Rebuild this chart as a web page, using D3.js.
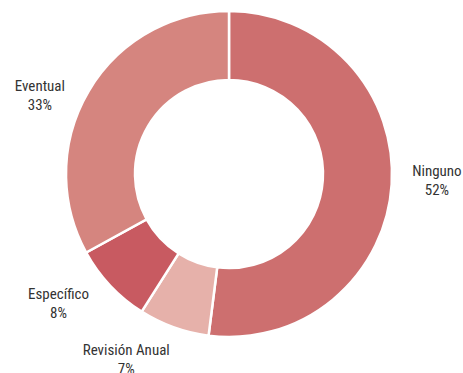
<!DOCTYPE html>
<html>
<head>
<meta charset="utf-8">
<script src="https://cdn.jsdelivr.net/npm/d3@7/dist/d3.min.js"></script>
<style>
  html, body { margin: 0; padding: 0; background: #ffffff; }
  svg { display: block; }
  text { font-family: "Liberation Sans Narrow", "Roboto Condensed", "Roboto", sans-serif; font-size: 15px; fill: #333333; }
</style>
</head>
<body>
<svg id="chart" width="463" height="373"></svg>
<script>
// Share of each category (percent)
const categories = ["Ninguno", "Revisión Anual", "Específico", "Eventual"];
const values = [52, 7, 8, 33];
const colors = ["#cd6f6f", "#e6b1aa", "#c85a61", "#d5857f"];

// Label anchor placement: angle (degrees, clockwise from 12 o'clock) and radius
const labelAngles = [91.6, 209, 232.8, 292.7];
const labelRadii = [208, 212, 214, 205];

const width = 463, height = 373;
const cx = 229, cy = 174;
const outerR = 163, innerR = 94;

const svg = d3.select("#chart");
const g = svg.append("g").attr("transform", `translate(${cx},${cy})`);

const data = categories.map((c, i) => ({ name: c, value: values[i], color: colors[i], i }));

const pie = d3.pie().value(d => d.value).sort(null);
const arc = d3.arc().innerRadius(innerR).outerRadius(outerR);

g.selectAll("path.slice")
  .data(pie(data))
  .join("path")
  .attr("class", "slice")
  .attr("d", arc)
  .attr("fill", d => d.data.color)
  .attr("stroke", "#ffffff")
  .attr("stroke-width", 2.5)
  .attr("stroke-linejoin", "miter");

const labels = g.selectAll("text.lbl")
  .data(data)
  .join("text")
  .attr("class", "lbl")
  .attr("text-anchor", "middle")
  .attr("transform", d => {
    const a = labelAngles[d.i] * Math.PI / 180;
    const r = labelRadii[d.i];
    return `translate(${r * Math.sin(a)},${-r * Math.cos(a)})`;
  });

labels.append("tspan").attr("x", 0).attr("y", -4).text(d => d.name);
labels.append("tspan").attr("x", 0).attr("y", 15).text(d => d.value + "%");
</script>
</body>
</html>
